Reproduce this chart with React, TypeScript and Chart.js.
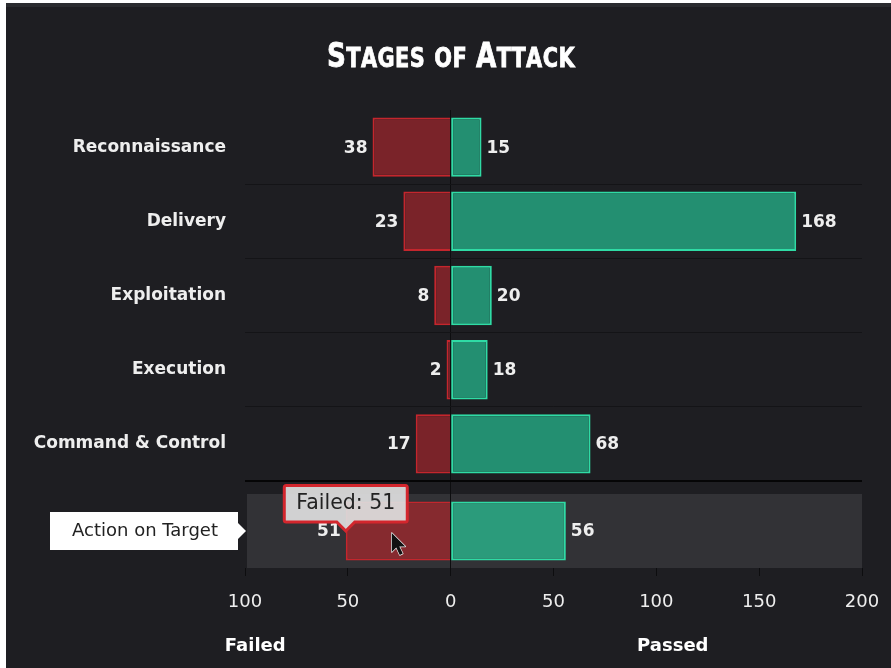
import React, { useEffect, useRef } from 'react';
import { Chart, registerables, Tooltip } from 'chart.js';

Chart.register(...registerables);

const categories = ['Reconnaissance', 'Delivery', 'Exploitation', 'Execution', 'Command & Control', 'Action on Target'];
const failedValues = [38, 23, 8, 2, 17, 51];
const passedValues = [15, 168, 20, 18, 68, 56];
const xTickValues = [-100, -50, 0, 50, 100, 150, 200];
const chartTitle = 'Stages of Attack';
const sideTitles = ['Failed', 'Passed'];
const highlightedIndex = 5;

const FONT = "'DejaVu Sans', Verdana, sans-serif";

(Tooltip as any).positioners.barEnd = function (elements: any[]) {
  if (!elements.length) return false;
  const el = elements[0].element;
  return { x: el.x, y: el.y };
};

export default function App() {
  const ref = useRef<HTMLCanvasElement>(null);

  useEffect(() => {
    const canvas = ref.current!;
    const mainCats = categories.slice(0, highlightedIndex);
    const hiCats = categories.slice(highlightedIndex);

    const decorPlugin = {
      id: 'decor',
      beforeDraw(chart: any) {
        const { ctx, chartArea, scales } = chart;
        const y2 = scales.y2;
        const cy = y2.getPixelForValue(0);
        ctx.save();
        ctx.fillStyle = '#323236';
        ctx.fillRect(chartArea.left + 2, y2.top, chartArea.right - chartArea.left - 2, y2.bottom - y2.top);
        ctx.fillStyle = '#ffffff';
        const right = chartArea.left - 7;
        const left = right - 188;
        const h = 38;
        ctx.beginPath();
        ctx.moveTo(left, cy - h / 2);
        ctx.lineTo(right, cy - h / 2);
        ctx.lineTo(right, cy - 8);
        ctx.lineTo(chartArea.left + 1, cy);
        ctx.lineTo(right, cy + 8);
        ctx.lineTo(right, cy + h / 2);
        ctx.lineTo(left, cy + h / 2);
        ctx.closePath();
        ctx.fill();
        ctx.restore();
      },
      afterDatasetsDraw(chart: any) {
        const { ctx } = chart;
        ctx.save();
        ctx.font = `bold 17px ${FONT}`;
        ctx.fillStyle = '#eeeeee';
        ctx.textBaseline = 'middle';
        [0, 2].forEach((d) => {
          const offset = d === 0 ? 0 : highlightedIndex;
          chart.getDatasetMeta(d).data.forEach((el: any, i: number) => {
            ctx.textAlign = 'right';
            ctx.fillText(String(failedValues[i + offset]), el.x - 5, el.y + 1);
          });
        });
        [1, 3].forEach((d) => {
          const offset = d === 1 ? 0 : highlightedIndex;
          chart.getDatasetMeta(d).data.forEach((el: any, i: number) => {
            ctx.textAlign = 'left';
            ctx.fillText(String(passedValues[i + offset]), el.x + 5, el.y + 1);
          });
        });
        ctx.restore();
      },
      afterDraw(chart: any) {
        const { ctx, scales } = chart;
        ctx.save();
        const big = 34;
        const small = 27;
        const fam = "'DejaVu Sans Condensed', 'DejaVu Sans', sans-serif";
        const parts = chartTitle.split('').map((ch) => {
          const isBig = ch !== ' ' && ch === ch.toUpperCase();
          return { ch: ch.toUpperCase(), size: isBig ? big : small };
        });
        let total = 0;
        const widths = parts.map((p) => {
          ctx.font = `bold ${p.size}px ${fam}`;
          const w = ctx.measureText(p.ch).width + (p.ch === ' ' ? 2 : 0.5);
          total += w;
          return w;
        });
        const targetW = 248;
        const sx = targetW / total;
        const cx = 445;
        const baseY = 64;
        ctx.translate(cx - targetW / 2, baseY);
        ctx.scale(sx, 1);
        ctx.fillStyle = '#ffffff';
        ctx.strokeStyle = '#ffffff';
        ctx.lineWidth = 0.8;
        ctx.textBaseline = 'alphabetic';
        ctx.textAlign = 'left';
        let x = 0;
        parts.forEach((p, i) => {
          ctx.font = `bold ${p.size}px ${fam}`;
          ctx.fillText(p.ch, x, 0);
          ctx.strokeText(p.ch, x, 0);
          x += widths[i];
        });
        ctx.restore();

        ctx.save();
        ctx.font = `bold 18px ${FONT}`;
        ctx.fillStyle = '#ffffff';
        ctx.textAlign = 'center';
        ctx.textBaseline = 'middle';
        const xs = scales.x;
        ctx.fillText(sideTitles[0], xs.getPixelForValue(-95), 643);
        ctx.fillText(sideTitles[1], xs.getPixelForValue(108), 643);
        ctx.restore();

        // mouse pointer over the hovered bar
        const hovered = chart.getDatasetMeta(2).data[0];
        if (hovered) {
          const px = hovered.x + 46;
          const py = hovered.y + 2;
          ctx.save();
          ctx.translate(px, py);
          ctx.beginPath();
          ctx.moveTo(0, 0);
          ctx.lineTo(0, 19);
          ctx.lineTo(4.5, 14.5);
          ctx.lineTo(8, 22);
          ctx.lineTo(11, 20.5);
          ctx.lineTo(7.5, 13.5);
          ctx.lineTo(13.5, 13.5);
          ctx.closePath();
          ctx.fillStyle = '#111111';
          ctx.strokeStyle = '#f0f0f0';
          ctx.lineWidth = 1.4;
          ctx.lineJoin = 'round';
          ctx.stroke();
          ctx.fill();
          ctx.restore();
        }
      },
    };

    const failColor = '#7a2329';
    const failHi = '#862a2f';
    const passColor = '#238f71';
    const passHi = '#2b9b7b';
    const barCommon = {
      borderWidth: 2,
      barPercentage: 0.8,
      categoryPercentage: 1,
      grouped: false,
    };

    const yCommon = {
      type: 'category',
      stacked: true,
      stack: 'rows',
      position: 'left',
      afterFit: (s: any) => {
        s.width = 239;
      },
      border: { display: false },
    };

    const chart = new Chart(canvas, {
      type: 'bar',
      data: {
        datasets: [
          {
            ...barCommon,
            label: 'Failed',
            yAxisID: 'y',
            data: failedValues.slice(0, highlightedIndex).map((v) => -v),
            backgroundColor: failColor,
            borderColor: '#c4262d',
            borderSkipped: 'start',
          },
          {
            ...barCommon,
            label: 'Passed',
            yAxisID: 'y',
            data: passedValues.slice(0, highlightedIndex),
            backgroundColor: passColor,
            borderColor: '#2fdba5',
            borderSkipped: false,
          },
          {
            ...barCommon,
            label: 'Failed',
            yAxisID: 'y2',
            data: failedValues.slice(highlightedIndex).map((v) => -v),
            backgroundColor: failHi,
            borderColor: '#c4262d',
            borderSkipped: 'start',
          },
          {
            ...barCommon,
            label: 'Passed',
            yAxisID: 'y2',
            data: passedValues.slice(highlightedIndex),
            backgroundColor: passHi,
            borderColor: '#2fdba5',
            borderSkipped: false,
          },
        ],
      },
      options: {
        indexAxis: 'y',
        responsive: false,
        animation: false,
        events: [],
        layout: { padding: { top: 107, right: 29, left: 0, bottom: 0 } },
        plugins: {
          legend: { display: false },
          title: { display: false },
          tooltip: {
            enabled: true,
            position: 'barEnd' as any,
            backgroundColor: 'rgba(222,222,222,0.93)',
            borderColor: '#d3262d',
            borderWidth: 3,
            bodyColor: '#222222',
            bodyFont: { family: FONT, size: 20.5 },
            padding: { x: 12, y: 6 },
            cornerRadius: 2,
            caretSize: 9,
            caretPadding: 0,
            displayColors: false,
            xAlign: 'center',
            yAlign: 'bottom',
            callbacks: {
              title: () => '',
              label: (c: any) => `${c.dataset.label}: ${Math.abs(c.raw)}`,
            },
          },
        },
        scales: {
          x: {
            stacked: true,
            min: -100,
            max: 200,
            afterBuildTicks: (s: any) => {
              s.ticks = xTickValues.map((v) => ({ value: v }));
            },
            afterFit: (s: any) => {
              s.height = 100;
              s.paddingLeft = 0;
              s.paddingRight = 0;
            },
            border: { display: false },
            grid: {
              color: (c: any) => (c.tick && c.tick.value === 0 ? '#0d0d0f' : 'rgba(0,0,0,0)'),
              tickColor: '#0d0d0f',
              tickLength: 8,
              drawTicks: true,
            },
            ticks: {
              color: '#eeeeee',
              font: { family: FONT, size: 18 },
              padding: 16,
              maxRotation: 0,
              callback: (v: any) => String(Math.abs(Number(v))),
            },
          },
          y: {
            ...yCommon,
            labels: mainCats,
            weight: 3,
            stackWeight: 371,
            grid: {
              drawTicks: false,
              color: (c: any) => {
                if (c.index === 0) return 'rgba(0,0,0,0)';
                if (c.index === undefined) return '#050506';
                return '#141417';
              },
              lineWidth: (c: any) => (c.index === undefined ? 2 : 1),
            },
            ticks: {
              padding: 19,
              color: '#eeeeee',
              font: { family: FONT, size: 17, weight: 'bold' },
            },
          },
          yGap: {
            ...yCommon,
            labels: [''],
            weight: 2,
            stackWeight: 13,
            grid: { display: false },
            ticks: { display: false },
          },
          y2: {
            ...yCommon,
            labels: hiCats,
            weight: 1,
            stackWeight: 74,
            grid: { display: false },
            ticks: {
              padding: 19,
              color: '#222222',
              font: { family: FONT, size: 18, weight: 'normal' },
            },
          },
        },
      },
      plugins: [decorPlugin],
    } as any);

    chart.tooltip?.setActiveElements([{ datasetIndex: 2, index: 0 }], { x: 0, y: 0 });
    chart.update();

    return () => chart.destroy();
  }, []);

  return (
    <div style={{ position: 'fixed', left: 0, top: 0, width: 891, height: 668, background: '#ffffff' }}>
      <div style={{ position: 'absolute', left: 6, top: 3, width: 885, height: 665, background: '#1e1e22' }}>
        <canvas ref={ref} width={885} height={665} style={{ display: 'block', width: 885, height: 665 }} />
        <div style={{ position: 'absolute', left: 0, top: 0, width: 885, height: 4, background: '#2a2b2f' }} />
      </div>
    </div>
  );
}
